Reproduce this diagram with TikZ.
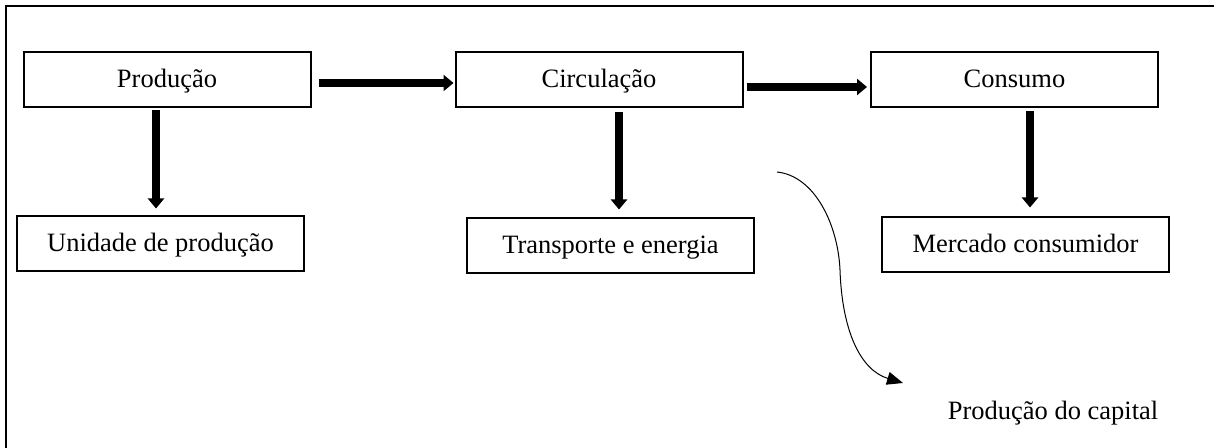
\documentclass[tikz,border=0pt]{standalone}
\usepackage{fontspec}
\setmainfont{Liberation Serif}
\usetikzlibrary{arrows.meta,calc}
\begin{document}
\begin{tikzpicture}[x=0.5pt,y=-0.5pt,
  stage/.style={draw,line width=1pt,inner xsep=0pt,inner ysep=0pt,
    text height=17.75pt,text depth=9.75pt,minimum width=143.5pt,
    font=\fontsize{13.25}{16}\selectfont},
  label/.style={font=\fontsize{13.25}{16}\selectfont,inner sep=0pt},
  bigarrow/.style={line width=3.6pt,-{Triangle[length=5pt,width=8pt]}},
  thinarrow/.style={line width=0.5pt,-{Triangle[length=8pt,width=6.5pt]}},
  frame/.style={line width=1pt}]
  \useasboundingbox (0,0) rectangle (1214,448);

  % outer frame (top and left edges)
  \coordinate (f0) at (6,448);
  \coordinate (f1) at (6,6);
  \coordinate (f2) at (1214,6);
  \draw[frame] (f0) -- (f1) -- (f2);

  % upper row
  \node[stage] (prod) at (167,80)   {Produção};
  \node[stage] (circ) at (599,80)   {Circulação};
  \node[stage] (cons) at (1014.5,80) {Consumo};

  % lower row
  \node[stage] (unid)   at (160.5,244) {Unidade de produção};
  \node[stage] (transp) at (610.5,246) {Transporte e energia};
  \node[stage] (merc)   at (1025.5,245) {Mercado consumidor};

  % flow along the top row
  \draw[bigarrow] ($(prod.east)+(7,3)$) -- ($(circ.west)+(-1,3)$);
  \draw[bigarrow] ($(circ.east)+(3,7)$) -- ($(cons.west)+(-3,7)$);

  % downward links
  \draw[bigarrow] ($(prod.south)+(-11,2)$) -- ($(unid.north)+(-4.5,-7)$);
  \draw[bigarrow] ($(circ.south)+(20,4)$) -- ($(transp.north)+(8.5,-8)$);
  \draw[bigarrow] ($(cons.south)+(15.5,3)$) -- ($(merc.north)+(4.5,-9)$);

  % curved arrow towards capital production
  \node[label,anchor=base] (cap) at (1053,419) {Produção do capital};
  \coordinate (cs) at (777,172);
  \coordinate (cm) at (840,270);
  \coordinate (ce) at (903,383);
  \draw[thinarrow] (cs) .. controls (815,176) and (838,225) .. (cm)
                        .. controls (842,330) and (860,370) .. (ce);
\end{tikzpicture}
\end{document}
